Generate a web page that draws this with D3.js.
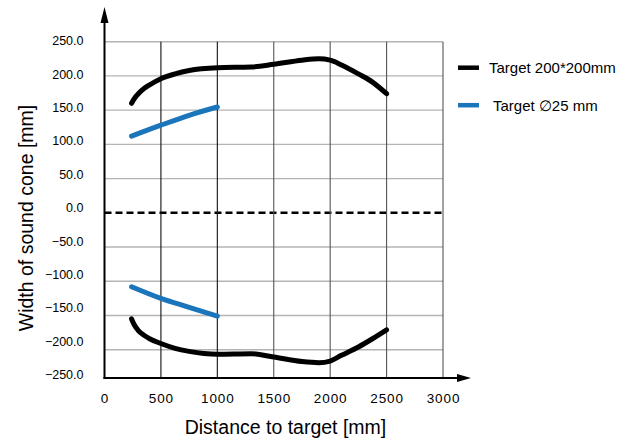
<!DOCTYPE html>
<html>
<head>
<meta charset="utf-8">
<script src="https://cdn.jsdelivr.net/npm/d3@7"></script>
<style>
  html, body { margin: 0; padding: 0; background: #fff; }
  svg { display: block; font-family: "Liberation Sans", Arial, sans-serif; }
</style>
</head>
<body>
<svg id="chart" width="624" height="443"></svg>
<script>
// distances in mm
const bigDistance = [240, 265, 300, 350, 400, 500, 625, 750, 1000, 1300, 1500, 1750, 1900, 2000, 2100, 2250, 2375, 2500];
const bigUpper = [160, 167, 174, 181.5, 187, 196, 203, 208, 212, 213, 217, 223, 225, 223, 216, 203, 191, 174];
const bigLower = [-155, -164, -172, -179, -184, -191, -198, -203, -208, -207, -213, -221, -223, -220, -210, -196, -184, -171];

const smallDistance = [240, 500, 750, 1000];
const smallUpper = [112, 128, 142.5, 154.6];
const smallLower = [-108, -125, -138, -151];

const xTicks = [0, 500, 1000, 1500, 2000, 2500, 3000];
const yTicks = [250, 200, 150, 100, 50, 0, -50, -100, -150, -200, -250];

const seriesNames = ["Target 200*200mm", "Target \u220525 mm"];
const seriesColors = ["#000000", "#1b75bb"];

const svg = d3.select("#chart");

const AXIS_LEFT = 104.5;
const AXIS_BOTTOM = 378;

const x = d3.scaleLinear().domain([0, 3000]).range([AXIS_LEFT, 443]);
// the grid in the original is not quite even at the bottom
const y = d3.scaleLinear().domain([-250, -200, 250]).range([AXIS_BOTTOM, 349.7, 41.7]);
// tick labels sit on their own even spacing
const yLabel = d3.scaleLinear().domain([-250, 250]).range([374.6, 40.8]);

// horizontal grid
svg.append("g")
  .selectAll("line")
  .data(yTicks.filter(v => v !== 0 && v !== -250))
  .join("line")
  .attr("x1", x(0))
  .attr("x2", x(3000))
  .attr("y1", d => y(d))
  .attr("y2", d => y(d))
  .attr("stroke", "#b4b4b4")
  .attr("stroke-width", 1.4);

// zero line
svg.append("line")
  .attr("x1", x(0))
  .attr("x2", x(3000))
  .attr("y1", y(0))
  .attr("y2", y(0))
  .attr("stroke", "#000")
  .attr("stroke-width", 2.6)
  .attr("stroke-dasharray", "7,4");

// vertical grid
svg.append("g")
  .selectAll("line")
  .data(xTicks.filter(v => v !== 0))
  .join("line")
  .attr("x1", d => x(d))
  .attr("x2", d => x(d))
  .attr("y1", y(250))
  .attr("y2", AXIS_BOTTOM)
  .attr("stroke", d => d <= 1000 ? "#111" : "#555")
  .attr("stroke-width", 1.1);

// curves
const line = (xs, ys) => d3.line()
  .x((d, i) => x(xs[i]))
  .y(d => y(d))
  .curve(d3.curveMonotoneX)(ys);

const curves = [
  { xs: bigDistance, ys: bigUpper, c: seriesColors[0] },
  { xs: bigDistance, ys: bigLower, c: seriesColors[0] },
  { xs: smallDistance, ys: smallUpper, c: seriesColors[1] },
  { xs: smallDistance, ys: smallLower, c: seriesColors[1] }
];

svg.append("g")
  .selectAll("path")
  .data(curves)
  .join("path")
  .attr("d", d => line(d.xs, d.ys))
  .attr("fill", "none")
  .attr("stroke", d => d.c)
  .attr("stroke-width", 5)
  .attr("stroke-linecap", "round")
  .attr("stroke-linejoin", "round");

// axes with arrows
svg.append("line")
  .attr("x1", AXIS_LEFT).attr("x2", AXIS_LEFT)
  .attr("y1", AXIS_BOTTOM + 1).attr("y2", 20)
  .attr("stroke", "#000").attr("stroke-width", 2);
svg.append("path")
  .attr("d", `M${AXIS_LEFT},7 L${AXIS_LEFT - 4},23 L${AXIS_LEFT + 4},23 Z`)
  .attr("fill", "#000");

svg.append("line")
  .attr("x1", AXIS_LEFT - 1).attr("x2", 460)
  .attr("y1", AXIS_BOTTOM).attr("y2", AXIS_BOTTOM)
  .attr("stroke", "#000").attr("stroke-width", 2);
svg.append("path")
  .attr("d", `M471,${AXIS_BOTTOM} L457,${AXIS_BOTTOM - 4} L457,${AXIS_BOTTOM + 4} Z`)
  .attr("fill", "#000");

// tick labels
const yAxis = svg.append("g")
  .attr("transform", `translate(${AXIS_LEFT - 21},0)`)
  .call(d3.axisLeft(yLabel).tickValues(yTicks).tickSize(0).tickFormat(d3.format(".1f")));
yAxis.select(".domain").remove();
yAxis.selectAll("text")
  .attr("font-size", 12.5)
  .attr("font-family", "Liberation Sans, Arial, sans-serif")
  .attr("fill", "#000")
  .attr("x", 0);

const xAxis = svg.append("g")
  .attr("transform", `translate(0,${AXIS_BOTTOM})`)
  .call(d3.axisBottom(x).tickValues(xTicks).tickSize(0).tickFormat(d3.format("d")));
xAxis.select(".domain").remove();
xAxis.selectAll("text")
  .attr("font-size", 13.5)
  .attr("font-family", "Liberation Sans, Arial, sans-serif")
  .attr("letter-spacing", 0.9)
  .attr("fill", "#000")
  .attr("y", 15);

// titles
svg.append("text")
  .attr("x", 285.5)
  .attr("y", 434)
  .attr("text-anchor", "middle")
  .attr("font-size", 19.5)
  .text("Distance to target [mm]");

svg.append("text")
  .attr("transform", "translate(33,218) rotate(-90)")
  .attr("text-anchor", "middle")
  .attr("font-size", 19.5)
  .text("Width of sound cone [mm]");

// legend
const legend = svg.append("g")
  .selectAll("g")
  .data(seriesNames)
  .join("g")
  .attr("transform", (d, i) => `translate(458,${67.7 + i * 37.5})`);

legend.append("line")
  .attr("x1", 0).attr("x2", 21)
  .attr("stroke", (d, i) => seriesColors[i])
  .attr("stroke-width", 4.5);

legend.append("text")
  .attr("x", (d, i) => i === 0 ? 31 : 35)
  .attr("y", 5.5)
  .attr("font-size", 15)
  .text(d => d);
</script>
</body>
</html>
